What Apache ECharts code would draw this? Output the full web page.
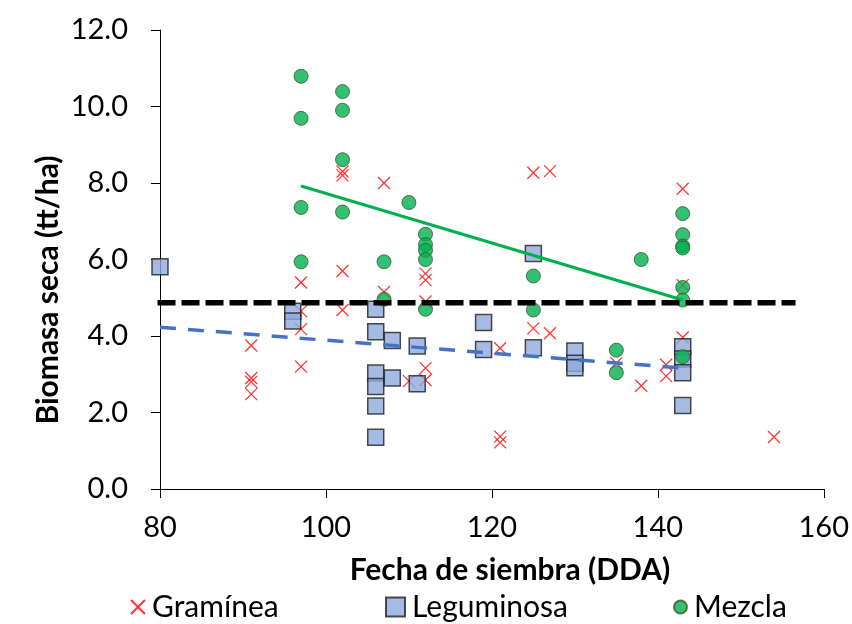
<!DOCTYPE html>
<html>
<head>
<meta charset="utf-8">
<script src="https://cdn.jsdelivr.net/npm/echarts@6/dist/echarts.min.js"></script>
<style>
  html, body { margin: 0; padding: 0; background: #fff; }
  #chart { width: 852px; height: 624px; }
</style>
</head>
<body>
<div id="chart"></div>
<script>
// Dry biomass by sowing date, three crop types
const graminea = [
  [91, 3.75], [91, 2.9], [91, 2.8], [91, 2.48],
  [97, 5.4], [97, 4.65], [97, 4.18], [97, 3.2],
  [102, 8.3], [102, 8.2], [102, 5.7], [102, 4.68],
  [107, 8.0], [107, 5.15],
  [110, 2.82],
  [112, 5.63], [112, 5.46], [112, 4.9], [112, 3.16], [112, 2.85],
  [121, 3.68], [121, 1.37], [121, 1.22],
  [125, 8.27], [127, 8.31], [125, 4.2], [127, 4.07],
  [135, 3.29], [138, 2.7], [141, 3.25], [141, 2.95],
  [143, 7.85], [143, 5.33], [143, 3.96],
  [154, 1.36]
];
const leguminosa = [
  [80, 5.81],
  [96, 4.65], [96, 4.39],
  [106, 4.7], [106, 4.11], [106, 3.03], [106, 2.68], [106, 2.17], [106, 1.35],
  [108, 3.88], [108, 2.9],
  [111, 3.74], [111, 2.75],
  [119, 4.35], [119, 3.65],
  [125, 6.16], [125, 3.69],
  [130, 3.61], [130, 3.29], [130, 3.17],
  [143, 3.72], [143, 3.4], [143, 3.04], [143, 2.18]
];
const mezcla = [
  [97, 10.79], [97, 9.69], [97, 7.36], [97, 5.94],
  [102, 10.39], [102, 9.9], [102, 8.61], [102, 7.24],
  [107, 5.94], [107, 4.96],
  [110, 7.49],
  [112, 6.66], [112, 6.39], [112, 6.24], [112, 6.0], [112, 4.7],
  [125, 5.57], [125, 4.68],
  [135, 3.63], [135, 3.04],
  [138, 6.0],
  [143, 7.2], [143, 6.65], [143, 6.35], [143, 6.3], [143, 5.27], [143, 4.94], [143, 3.46]
];
// Linear trends and the overall mean line
const trendMezcla = [[97, 7.92], [143, 4.94]];
const trendLeguminosa = [[80, 4.23], [143, 3.16]];
const promedio = [[79.7, 4.87], [156.6, 4.87]];

const xTicks = { min: 80, max: 160, interval: 20 };
const yTicks = { min: 0, max: 12, interval: 2 };

const FONT = 'Lato, "Open Sans", sans-serif';
const crossPath = 'path://M0,0L10,10M10,0L0,10';

const chart = echarts.init(document.getElementById('chart'), null, { renderer: 'canvas' });

const axisCommon = {
  axisLine: { show: true, lineStyle: { color: '#000', width: 1 } },
  axisTick: { show: true, inside: false, length: 9, lineStyle: { color: '#000', width: 1 } },
  splitLine: { show: false }
};

function legendBox(name, left, size) {
  return {
    data: [name],
    left: left,
    top: 592,
    padding: 0,
    itemWidth: size,
    itemHeight: size,
    itemGap: 0,
    textStyle: { fontFamily: FONT, fontSize: 30, color: '#000', padding: [0, 0, 0, 2] },
    selectedMode: false
  };
}

chart.setOption({
  animation: false,
  backgroundColor: '#fff',
  grid: { left: 160, right: 25, top: 30, bottom: 135 },
  xAxis: Object.assign({
    type: 'value',
    min: xTicks.min, max: xTicks.max, interval: xTicks.interval,
    axisLabel: { fontFamily: FONT, fontSize: 29, color: '#000', margin: 24 }
  }, axisCommon),
  yAxis: Object.assign({
    type: 'value',
    min: yTicks.min, max: yTicks.max, interval: yTicks.interval,
    axisLabel: { fontFamily: FONT, fontSize: 29, color: '#000', margin: 32,
      formatter: v => v.toFixed(1) }
  }, axisCommon),
  legend: [
    legendBox('Gramínea', 130, 14),
    legendBox('Leguminosa', 385, 19),
    legendBox('Mezcla', 673, 13)
  ],
  graphic: [
    {
      type: 'text', x: 48, y: 290, rotation: Math.PI / 2,
      style: { text: 'Biomasa seca (tt/ha)', font: 'bold 30px ' + FONT, fill: '#000',
        textAlign: 'center', textVerticalAlign: 'middle' }
    },
    {
      type: 'text', x: 510, y: 570,
      style: { text: 'Fecha de siembra (DDA)', font: 'bold 30px ' + FONT, fill: '#000',
        textAlign: 'center', textVerticalAlign: 'middle' }
    }
  ],
  series: [
    {
      name: 'Gramínea', type: 'scatter', data: graminea,
      symbol: crossPath, symbolSize: 12,
      itemStyle: { color: 'rgba(0,0,0,0)', borderColor: '#FF0000', borderWidth: 1.3 }
    },
    {
      name: 'Leguminosa', type: 'scatter', data: leguminosa,
      symbol: 'rect', symbolSize: 16,
      itemStyle: { color: '#8FAADC', borderColor: '#1F1F1F', borderWidth: 1.5 }
    },
    {
      name: 'Mezcla', type: 'scatter', data: mezcla,
      symbol: 'circle', symbolSize: 14,
      itemStyle: { color: '#00B050', borderColor: '#385723', borderWidth: 1 }
    },
    {
      name: 'Tendencia Leguminosa', type: 'line', data: trendLeguminosa, z: 3,
      symbol: 'none', silent: true,
      lineStyle: { color: '#4472C4', width: 3.5, type: [16, 12], cap: 'butt' }
    },
    {
      name: 'Tendencia Mezcla', type: 'line', data: trendMezcla, z: 3,
      symbol: 'none', silent: true,
      lineStyle: { color: '#00B050', width: 3, type: 'solid' }
    },
    {
      name: 'Promedio', type: 'line', data: promedio, z: 4, clip: false,
      symbol: 'none', silent: true,
      lineStyle: { color: '#000', width: 5.5, type: [18, 6], cap: 'butt' }
    }
  ]
});
</script>
</body>
</html>
